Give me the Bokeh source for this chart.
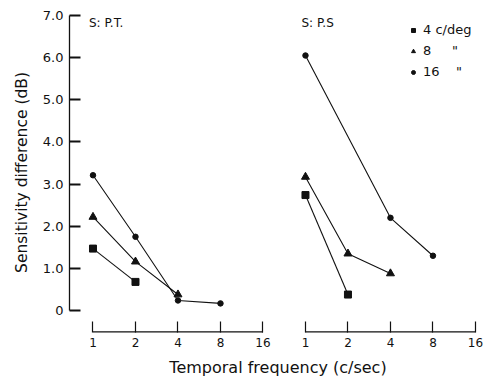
import numpy as np
from bokeh.plotting import figure
from bokeh.models import Range1d, FixedTicker, Legend, LegendItem, Label
from bokeh.embed import file_html
from bokeh.resources import INLINE

# ---------------- data ----------------
freq_ticks = [1, 2, 4, 8, 16]
freq_tick_labels = ["1", "2", "4", "8", "16"]
y_ticks = [0, 1, 2, 3, 4, 5, 6, 7]
y_tick_labels = ["0", "1.0", "2.0", "3.0", "4.0", "5.0", "6.0", "7.0"]
panel_names = ["S: P.T.", "S: P.S"]
legend_labels = ["4 c/deg", "8\u00a0\u00a0\u00a0\u00a0\u00a0\"", "16\u00a0\u00a0\u00a0\u00a0\""]

# subject P.T.
pt_4_freq = [1, 2]
pt_4_val = [1.47, 0.68]
pt_8_freq = [1, 2, 4]
pt_8_val = [2.22, 1.16, 0.38]
pt_16_freq = [1, 2, 4, 8]
pt_16_val = [3.21, 1.75, 0.24, 0.17]
# subject P.S
ps_4_freq = [1, 2]
ps_4_val = [2.74, 0.38]
ps_8_freq = [1, 2, 4]
ps_8_val = [3.17, 1.35, 0.88]
ps_16_freq = [1, 4, 8]
ps_16_val = [6.05, 2.20, 1.30]

PANEL_SHIFT = 5  # octaves between the start of the two panels


def u(freqs, panel):
    return [float(np.log2(f)) + panel * PANEL_SHIFT for f in freqs]


FONT = "DejaVu Sans"
BLACK = "#111111"

x_start, x_end = -0.553, 9.26
y_start, y_end = -0.52, 7.07

p = figure(width=486, height=379, output_backend="svg", toolbar_location=None,
           x_range=Range1d(x_start, x_end), y_range=Range1d(y_start, y_end),
           min_border_left=69, min_border_right=0, min_border_top=12, min_border_bottom=46)
p.outline_line_color = None
p.xgrid.visible = False
p.ygrid.visible = False
p.background_fill_color = "white"
p.border_fill_color = "white"

# y axis
ya = p.yaxis[0]
ya.ticker = FixedTicker(ticks=y_ticks)
ya.major_label_overrides = {t: l for t, l in zip(y_ticks, y_tick_labels)}
ya.bounds = (y_ticks[0], y_ticks[-1])
ya.major_tick_in = 11
ya.major_tick_out = 0
ya.minor_tick_line_color = None
ya.major_tick_line_width = 2
ya.axis_line_width = 1.3
ya.axis_line_color = BLACK
ya.major_tick_line_color = BLACK
ya.major_label_standoff = 6
ya.major_label_text_font = FONT
ya.major_label_text_font_size = "13px"
ya.major_label_text_color = BLACK
ya.axis_label = "Sensitivity difference (dB)"
ya.axis_label_text_font = FONT
ya.axis_label_text_font_size = "15.5px"
ya.axis_label_text_font_style = "normal"
ya.axis_label_text_color = BLACK
ya.axis_label_standoff = 9

# x axis (two panels share one axis; baseline drawn per panel)
xa = p.xaxis[0]
xticks = u(freq_ticks, 0) + u(freq_ticks, 1)
xa.ticker = FixedTicker(ticks=xticks)
xa.major_label_overrides = {t: l for t, l in zip(xticks, freq_tick_labels * 2)}
xa.axis_line_color = None
xa.major_tick_in = 11
xa.major_tick_out = 0
xa.minor_tick_line_color = None
xa.major_tick_line_color = BLACK
xa.major_tick_line_width = 1.2
xa.major_label_standoff = 5
xa.major_label_text_font = FONT
xa.major_label_text_font_size = "12px"
xa.major_label_text_color = BLACK
xa.axis_label = "Temporal frequency (c/sec)"
xa.axis_label_text_font = FONT
xa.axis_label_text_font_size = "16px"
xa.axis_label_text_font_style = "normal"
xa.axis_label_text_color = BLACK
xa.axis_label_standoff = 8

for panel in (0, 1):
    tk = u(freq_ticks, panel)
    p.segment(x0=[tk[0]], y0=[y_start], x1=[tk[-1]], y1=[y_start],
              line_color=BLACK, line_width=2.6)

series = [
    (0, pt_4_freq, pt_4_val, "square", 7),
    (0, pt_8_freq, pt_8_val, "triangle", 8),
    (0, pt_16_freq, pt_16_val, "circle", 5.5),
    (1, ps_4_freq, ps_4_val, "square", 7),
    (1, ps_8_freq, ps_8_val, "triangle", 8),
    (1, ps_16_freq, ps_16_val, "circle", 5.5),
]
legend_renderers = []
for panel, fr, vals, mk, sz in series:
    xs = u(fr, panel)
    p.line(xs, vals, line_color=BLACK, line_width=1.1)
    r = p.scatter(xs, vals, marker=mk, size=sz, fill_color=BLACK, line_color=BLACK)
    if panel == 0:
        legend_renderers.append(r)

legend = Legend(items=[LegendItem(label=l, renderers=[r]) for l, r in zip(legend_labels, legend_renderers)],
                location=(339, 253), padding=0, margin=0, spacing=6,
                glyph_width=10, glyph_height=14, label_height=14, label_standoff=5,
                label_text_font=FONT, label_text_font_size="13px", label_text_color=BLACK,
                border_line_color=None, background_fill_alpha=0)
p.add_layout(legend, "center")

for panel, name in enumerate(panel_names):
    p.add_layout(Label(x=u([1], panel)[0], y=310, x_units="data", y_units="screen",
                       x_offset=-4, text=name, text_font=FONT, text_font_size="12px",
                       text_color=BLACK, text_baseline="middle", text_align="left"))

open("out.html", "w").write(file_html(p, INLINE))
